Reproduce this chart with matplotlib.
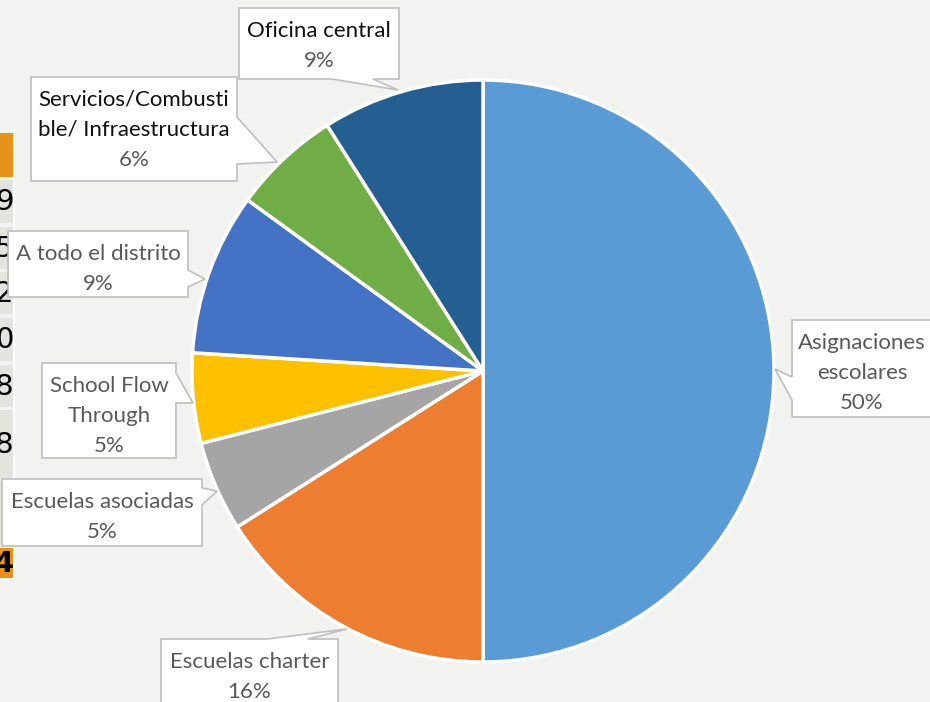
import matplotlib.pyplot as plt
from matplotlib.patches import Polygon, Rectangle

W, H = 930, 702

labels = ["Asignaciones\nescolares", "Escuelas charter", "Escuelas asociadas",
          "School Flow\nThrough", "A todo el distrito",
          "Servicios/Combusti\nble/ Infraestructura", "Oficina central"]
shares = [50, 16, 5, 5, 9, 6, 9]
colors = ["#5b9bd5", "#ed7d31", "#a5a5a5", "#ffc000", "#4472c4", "#70ad47", "#255e91"]
name_colors = ["#595959"] * 5 + ["#111111", "#111111"]

# strip of the spreadsheet table peeking in on the left edge
cell_rows = [(133, 177), (180, 223), (227, 269), (272, 314), (318, 361),
             (365, 407), (410, 478), (481, 545), (548, 578)]
cell_kinds = ["total", "row", "row", "row", "row", "row", "row", "row", "total"]
cell_digits = ["", "9", "5", "2", "0", "8", "8", "", "4"]

# callout boxes: (left, top, right, bottom), side of the pointer, pointer base, tip
callouts = [
    ((792, 320, 945, 417), "left", (377, 400), (775, 369)),
    ((161, 639, 338, 715), "top", (267, 308), (347, 629)),
    ((2, 479, 202, 546), "right", (488, 505), (217, 491)),
    ((42, 363, 176, 458), "right", (373, 403), (193, 403)),
    ((8, 231, 188, 297), "right", (270, 287), (205, 279)),
    ((31, 77, 237, 181), "right", (117, 164), (277, 162)),
    ((239, 8, 399, 79), "bottom", (332, 373), (398, 90)),
]


def Y(y):
    return H - y


def callout_shape(box, side, base, tip):
    l, t, r, b = box
    pts = [(l, t)]
    if side == "top":
        pts += [(base[0], t), tip, (base[1], t)]
    pts.append((r, t))
    if side == "right":
        pts += [(r, base[0]), tip, (r, base[1])]
    pts.append((r, b))
    if side == "bottom":
        pts += [(base[1], b), tip, (base[0], b)]
    pts.append((l, b))
    if side == "left":
        pts += [(l, base[1]), tip, (l, base[0])]
    return [(x, Y(y)) for x, y in pts]


fig = plt.figure(figsize=(W / 100, H / 100), dpi=100)
fig.patch.set_facecolor("#f2f2f1")
ax = fig.add_axes([0, 0, 1, 1])
ax.set_facecolor("#f2f2f1")

for (top, bot), kind, d in zip(cell_rows, cell_kinds, cell_digits):
    fc = "#e8911c" if kind == "total" else "#e4e4df"
    ax.add_patch(Rectangle((0, Y(bot)), 12.5, bot - top, facecolor=fc,
                           edgecolor="none", zorder=1))
    if d:
        ax.text(13.5, Y((top + bot) / 2 + 1), d, ha="right", va="center",
                fontsize=21, color="black",
                fontweight="bold" if kind == "total" else "normal",
                family="DejaVu Sans", zorder=2)
ax.add_patch(Rectangle((12.5, Y(580)), 2.5, 450, facecolor="white",
                       edgecolor="none", zorder=1))

ax.pie(shares, colors=colors, startangle=90, counterclock=False,
       center=(483, Y(371)), radius=291,
       wedgeprops=dict(edgecolor="white", linewidth=2.5, zorder=3))

for lab, val, nc, (box, side, base, tip) in zip(labels, shares, name_colors, callouts):
    ax.add_patch(Polygon(callout_shape(box, side, base, tip), closed=True,
                         facecolor="white", edgecolor="#bfbfbf", linewidth=1.2,
                         zorder=5))
    l, t, r, b = box
    lines = lab.split("\n")
    cx = (l + r) / 2 if r <= W else 862
    y0 = t + 23
    for i, line in enumerate(lines):
        ax.text(cx, Y(y0 + i * 30), line, ha="center", va="center",
                fontsize=16, color=nc, family="Lato", zorder=6)
    ax.text(cx, Y(y0 + len(lines) * 30), f"{val}%", ha="center", va="center",
            fontsize=16, color="#595959", family="Lato", zorder=6)

ax.set_xlim(0, W)
ax.set_ylim(0, H)
ax.set_aspect("auto")
ax.axis("off")

fig.savefig("out.png", dpi=100, facecolor=fig.get_facecolor())
